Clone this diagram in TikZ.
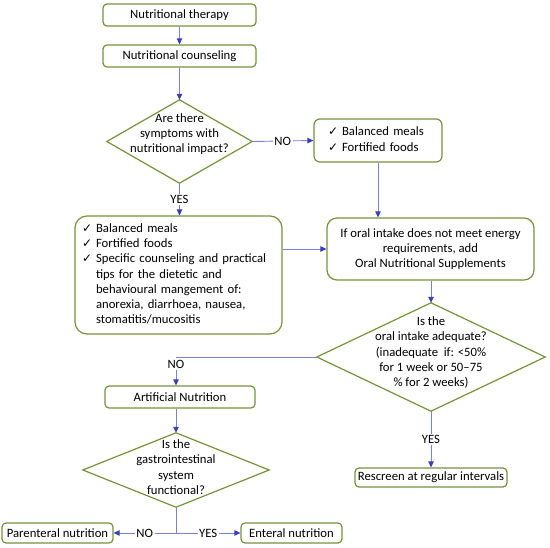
\documentclass[tikz,border=0pt]{standalone}
\usepackage{fontspec}
\setmainfont{Carlito}
\newfontfamily\dejavu{DejaVu Sans}
\usetikzlibrary{arrows.meta}
\definecolor{boxgreen}{RGB}{118,146,60}
\definecolor{linecol}{RGB}{120,130,220}
\definecolor{tipcol}{RGB}{60,60,190}
\newcommand{\fs}{\fontsize{12.7}{15.3}\selectfont}
\newcommand{\ck}{{\dejavu\fontsize{12}{12}\selectfont ✓}}
\tikzset{
  box/.style={draw=boxgreen, line width=1.2pt, rounded corners=4pt, fill=white, inner sep=0pt, font=\fs, align=center},
  dshape/.style={inner sep=0pt},
  dia/.style={draw=boxgreen, line width=1.2pt},
  dtext/.style={font=\fs, align=center, inner sep=0pt},
  conn/.style={draw=linecol, line width=0.9pt},
  arr/.style={conn, -{Triangle[length=6pt,width=5.5pt,color=tipcol]}},
  lab/.style={fill=white, font=\fs, inner sep=1.5pt}
}
\begin{document}
\begin{tikzpicture}[x=1pt,y=-1pt]
\useasboundingbox[fill=white] (0,0) rectangle (550,548);

\node[box, minimum width=153pt, minimum height=22pt] (t1) at (179.5,15) {Nutritional therapy};
\node[box, minimum width=153pt, minimum height=22pt] (t2) at (179.5,56) {Nutritional counseling};

\node[dshape, minimum width=145pt, minimum height=83pt] (d1) at (179.5,141.5) {};
\draw[dia] (d1.north)--(d1.east)--(d1.south)--(d1.west)--cycle;
\node[dtext] (d1t) at (179.5,134) {Are there\\symptoms with\\nutritional impact?};

\node[box, rounded corners=6pt, text width=100pt, inner xsep=14pt, minimum height=43pt, align=left] (b1) at (378,140.5)
{\begin{tabular}{@{}l@{\hspace{4pt}}l@{}}\ck & Balanced meals\\ \ck & Fortified foods\end{tabular}};

\node[box, rounded corners=12pt, text width=193pt, inner xsep=7pt, minimum height=118pt, align=left] (L) at (178.5,275)
{\begin{tabular}{@{}l@{\hspace{4pt}}l@{}}
\ck & Balanced meals\\
\ck & Fortified foods\\
\ck & Specific counseling and practical\\
 & tips for the dietetic and\\
 & behavioural mangement of:\\
 & anorexia, diarrhoea, nausea,\\
 & stomatitis/mucositis
\end{tabular}};

\node[box, rounded corners=10pt, minimum width=207pt, minimum height=62pt] (R) at (430.5,249)
{If oral intake does not meet energy\\requirements, add\\Oral Nutritional Supplements};

\node[dshape, minimum width=228pt, minimum height=108pt] (d2) at (431,357) {};
\draw[dia] (d2.north)--(d2.east)--(d2.south)--(d2.west)--cycle;
\node[dtext] (d2t) at (431,352.5) {Is the\\oral intake adequate?\\(inadequate\ \ if: <50\%\\for 1 week or 50–75\\\% for 2 weeks)};

\node[box, minimum width=150pt, minimum height=22pt] (A) at (180,397) {Artificial Nutrition};

\node[dshape, minimum width=186pt, minimum height=74pt] (d3) at (176,470) {};
\draw[dia] (d3.north)--(d3.east)--(d3.south)--(d3.west)--cycle;
\node[dtext] (d3t) at (176,467) {Is the\\gastrointestinal\\system\\functional?};

\node[box, minimum width=152pt, minimum height=19pt] (Rs) at (431,477.5) {Rescreen at regular intervals};
\node[box, minimum width=111pt, minimum height=20pt] (P) at (57.5,533) {Parenteral nutrition};
\node[box, minimum width=101pt, minimum height=20pt] (E) at (291.5,533) {Enteral nutrition};

% connectors
\draw[arr] (t1.south) -- (t2.north);
\draw[arr] (t2.south) -- (d1.north);
\draw[arr] (d1.east) -- node[lab] {NO} (b1.west);
\draw[arr] (d1.south) -- node[lab] {YES} (d1.south |- L.north);
\draw[arr] (b1.south) -- (b1.south |- R.north);
\draw[arr] (R.west -| L.east) -- (R.west);
\draw[arr] (R.south -| d2.north) -- (d2.north);
\coordinate (c1) at (d2.west -| d3.north);
\draw[arr] (d2.west) -- (c1) -- node[lab, pos=0.25] {NO} (c1 |- A.north);
\draw[arr] (d3.north |- A.south) -- (d3.north);
\draw[arr] (d2.south) -- node[lab] {YES} (Rs.north -| d2.south);
\coordinate (j) at (d3.south |- P.east);
\draw[conn] (d3.south) -- (j);
\draw[arr] (j) -- node[lab] {NO} (P.east);
\draw[arr] (j) -- node[lab] {YES} (E.west);
\end{tikzpicture}
\end{document}
